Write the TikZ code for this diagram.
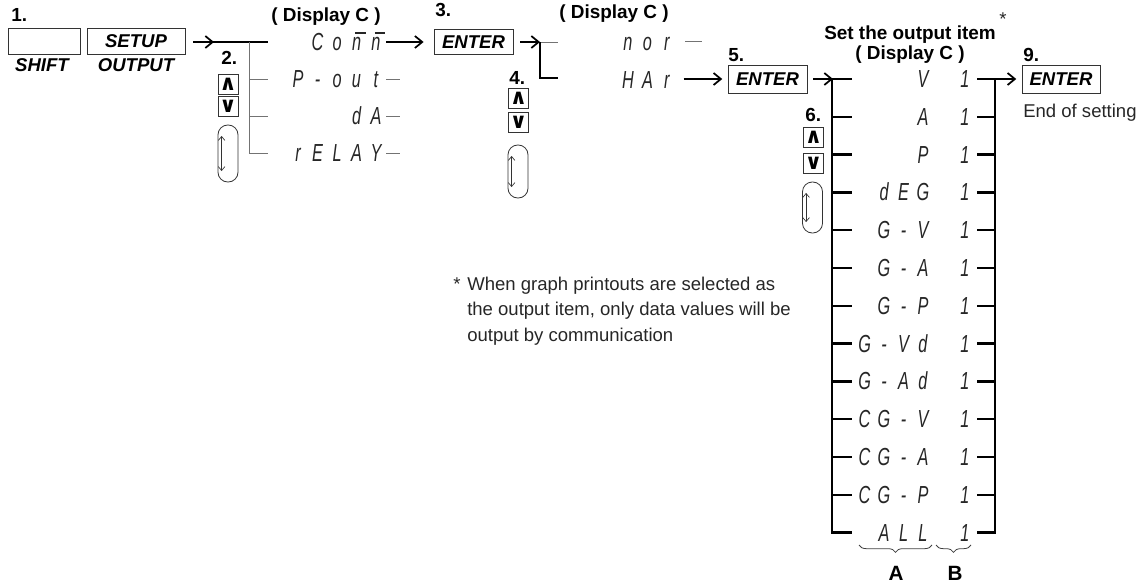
\documentclass[tikz,border=0pt]{standalone}
\usepackage{fontspec}
\setmainfont{Liberation Sans}
\newfontfamily\segfont{Liberation Sans}[FakeStretch=0.66]
\newfontfamily\symfont{DejaVu Sans}
\usetikzlibrary{arrows.meta,decorations.pathreplacing,calc}
\newlength\segw \setlength\segw{14.6pt}
\def\segloop#1{\ifx#1\relax\else\makebox[\segw][c]{#1}\expandafter\segloop\fi}
\newcommand\segtxt[1]{\expandafter\segloop#1\relax}
\newcommand\nbar{\makebox[0pt][l]{\hspace{0.14em}\rule[0.66em]{0.42em}{0.05em}}n}
\tikzset{
  lbl/.style={font=\bfseries\fontsize{14.2pt}{16pt}\selectfont, inner sep=0pt},
  keylbl/.style={font=\bfseries\itshape\fontsize{13.9pt}{16pt}\selectfont, inner sep=0pt},
  txt/.style={font=\fontsize{13.9pt}{16pt}\selectfont, inner sep=0pt, text=black!85},
  keybox/.style={draw=black!80, line width=0.6pt, font=\bfseries\itshape\fontsize{13.9pt}{16pt}\selectfont, inner sep=0pt},
  seg/.style={font=\segfont\itshape\fontsize{18.5pt}{20pt}\selectfont, inner sep=0pt, text=black!85},
  udbox/.style={draw=black!80, line width=0.6pt, minimum size=15pt, inner sep=0pt, font=\symfont\bfseries\fontsize{16pt}{16pt}\selectfont},
  oval/.style={draw=black!80, line width=0.6pt, rounded corners=7.3pt, minimum width=15pt, inner sep=0pt},
  thk/.style={line width=1.8pt, black},
  thn/.style={line width=0.6pt, black!55},
  arr/.style={-{Straight Barb[length=5.5pt,width=9pt,line width=1.3pt]}},
  dbl/.style={line width=0.5pt, black!80, {Straight Barb[length=3pt,width=5pt]}-{Straight Barb[length=3pt,width=5pt]}},
}
\begin{document}
\begin{tikzpicture}[x=0.75pt,y=-0.75pt]
\useasboundingbox (0,0) rectangle (1143,586);

% ---------- step 1
\node[lbl, anchor=base west] (n1) at (11,21) {1.};
\node[keybox, minimum width=54pt, minimum height=19.5pt] (shift) at (44,41) {};
\node[keylbl] (shiftl) at (42,65) {SHIFT};
\node[keybox, minimum width=73.5pt, minimum height=19.5pt] (setup) at (136,41) {SETUP};
\node[keylbl] (outl) at (136,65) {OUTPUT};

% ---------- step 2 junction
\coordinate (a1) at (214,42);
\coordinate (j1) at (249,42);
\coordinate (j1e) at (268,42);
\draw[thk,arr] ([xshift=6pt]setup.east |- a1) -- (a1);
\draw[thk] ([xshift=-2pt]a1) -- (j1e);
\draw[thn] (j1) -- (249,153) -- (268,153);
\draw[thn] (249,79) -- (268,79);
\draw[thn] (249,116) -- (268,116);

\node[lbl, anchor=base west] (n2) at (221,64) {2.};
\node[udbox] (up2) at (228,84) {∧};
\node[udbox] (dn2) at (228,106.5) {∨};
\node[oval, minimum height=42.75pt] (ov2) at (228,153.5) {};
\draw[dbl] ([xshift=3pt,yshift=-8.5pt]ov2.north west) -- ([xshift=3pt,yshift=8.5pt]ov2.south west);

\node[lbl] (disp1) at (326,17) {( Display C )};
\node[seg, anchor=base east] (comm) at (386,50) {\segtxt{Co\nbar\nbar}};
\node[seg, anchor=base east] (pout) at (386,87) {\segtxt{P-out}};
\node[seg, anchor=base east] (da) at (386,124) {\segtxt{dA}};
\node[seg, anchor=base east] (relay) at (386,161) {\segtxt{rELAY}};
\draw[thn] (386,79) -- (400,79);
\draw[thn] (386,116) -- (400,116);
\draw[thn] (386,153) -- (400,153);

% ---------- step 3
\node[lbl, anchor=base west] (n3) at (435,16) {3.};
\node[keybox, minimum width=59.25pt, minimum height=19pt] (enter3) at (473.5,42) {ENTER};
\draw[thk,arr] (comm.east |- enter3.west) -- ([xshift=-7.5pt]enter3.west);
\coordinate (j2) at (540,42);
\draw[thk,arr] ([xshift=5pt]enter3.east) -- (j2);
\draw[thn] (j2) -- (558,42);
\draw[thk] (j2) -- (540,78) -- (558,78);

% ---------- step 4
\node[lbl, anchor=base west] (n4) at (509,84) {4.};
\node[udbox] (up4) at (518.5,98.5) {∧};
\node[udbox] (dn4) at (518.5,122.5) {∨};
\node[oval, minimum height=39.75pt] (ov4) at (518,171.5) {};
\draw[dbl] ([xshift=3pt,yshift=-8.5pt]ov4.north west) -- ([xshift=3pt,yshift=8.5pt]ov4.south west);

\node[lbl] (disp2) at (614,14) {( Display C )};
\node[seg, anchor=base west] (nor) at (618,50) {\segtxt{nor}};
\node[seg, anchor=base west] (har) at (618,88) {\segtxt{HAr}};
\draw[thn] (685,41) -- (702,41);

% ---------- step 5
\node[lbl, anchor=base west] (n5) at (728,61) {5.};
\node[keybox, minimum width=59.25pt, minimum height=21pt] (enter5) at (767.5,79) {ENTER};
\draw[thk,arr] ([xshift=5pt]har.east |- enter5.west) -- ([xshift=-4pt]enter5.west);
\coordinate (j3) at (833,79);
\draw[thk,arr] ([xshift=4.5pt]enter5.east) -- (j3);

% ---------- step 6
\node[lbl, anchor=base west] (n6) at (805,121) {6.};
\node[udbox] (up6) at (813.5,137) {∧};
\node[udbox] (dn6) at (813.5,163.5) {∨};
\node[oval, minimum height=38.25pt] (ov6) at (812.5,207.5) {};
\draw[dbl] ([xshift=3pt,yshift=-8.5pt]ov6.north west) -- ([xshift=3pt,yshift=8.5pt]ov6.south west);

\node[lbl] (settitle) at (910,35) {Set the output item};
\node[txt] (star1) at (1003,19) {*};
\node[lbl] (disp3) at (910,55) {( Display C )};

% output items
\draw[thk] (852,79) -| (832,533) -- (852,533);
\draw[thk] (977,79) -| (995,533) -- (977,533);
\foreach \t [count=\i from 0] in {V,A,P,dEG,G-V,G-A,G-P,G-Vd,G-Ad,CG-V,CG-A,CG-P,ALL}{
  \pgfmathsetmacro\yy{79+37.8*\i}
  \node[seg, anchor=base east] (ia\i) at (933,\yy+8.5) {\segtxt{\t}};
  \node[seg, anchor=base] (ib\i) at (965,\yy+8.5) {1};
  \ifnum\i>0
    \draw[thk] (832,\yy) -- (852,\yy);
    \draw[thk] (977,\yy) -- (995,\yy);
  \fi
}

\draw[thn, black!75, decorate, decoration={brace, mirror, amplitude=5.5pt}] (859,545) -- (932,545);
\draw[thn, black!75, decorate, decoration={brace, mirror, amplitude=5.5pt}] (936,545) -- (971,545);
\node[lbl, font=\bfseries\fontsize{15.5pt}{17pt}\selectfont] (la) at (896,573) {A};
\node[lbl, font=\bfseries\fontsize{15.5pt}{17pt}\selectfont] (lb) at (955,573) {B};

% ---------- step 9
\node[lbl, anchor=base west] (n9) at (1023,61) {9.};
\node[keybox, minimum width=58.5pt, minimum height=21pt] (enter9) at (1061,79) {ENTER};
\draw[thk,arr] (995,79) -- ([xshift=-4pt]enter9.west);
\node[txt, anchor=base west] (endset) at (1023,117) {End of setting};

% ---------- footnote
\node[txt, anchor=base west] (fstar) at (453,290) {*};
\node[txt, anchor=base west] (fn1) at (467,290) {When graph printouts are selected as};
\node[txt, anchor=base west] (fn2) at (467,315.5) {the output item, only data values will be};
\node[txt, anchor=base west] (fn3) at (467,341) {output by communication};
\end{tikzpicture}
\end{document}
